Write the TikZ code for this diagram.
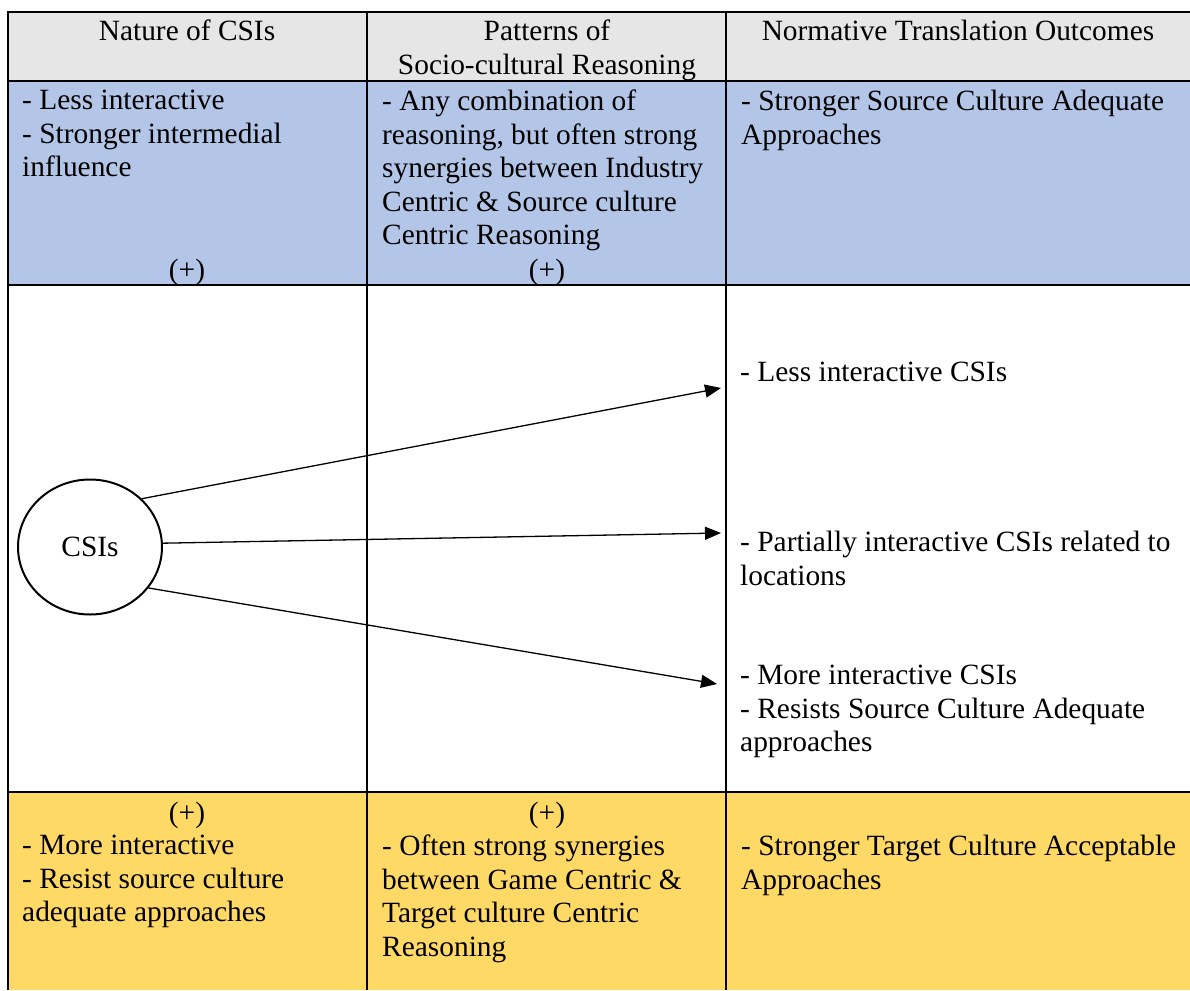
\documentclass[tikz,border=0pt]{standalone}
\usepackage{fontspec}
\setmainfont{Liberation Serif}
\usepackage{xcolor}
\usetikzlibrary{arrows.meta,positioning,shapes.geometric}
\definecolor{headgray}{HTML}{E7E6E6}
\definecolor{rowblue}{HTML}{B4C6E7}
\definecolor{rowyellow}{HTML}{FFD966}

\begin{document}
\begin{tikzpicture}
[x=1pt,y=-1pt,font=\fontsize{29.4}{33.5}\selectfont,
      cell/.style={anchor=north west,align=left,inner sep=0pt},
      head/.style={anchor=north,align=center,inner sep=0pt},
      plus/.style={anchor=base,inner sep=0pt},
      rule/.style={line width=2pt},
      link/.style={-{Triangle[length=16pt,width=13pt]},line width=1.3pt}]
 \useasboundingbox (0,0) rectangle (1190,990);
 % row fills
 \fill[headgray] (8,12) rectangle (1190,81);
 \fill[rowblue] (8,81) rectangle (1190,285);
 \fill[rowyellow] (8,792) rectangle (1190,990);
 % grid
 \draw[rule] (1190,12) -- (8,12) -- (8,990);
 \foreach \y in {81,285,792}
  \draw[rule] (8,\y) -- (1190,\y);
 \foreach \x in {367,726}
  \draw[rule] (\x,12) -- (\x,990);
 % header
 \node[head] (nature) at (187,20) {Nature of CSIs};
 \node[head] (patterns) at (547,20) {Patterns of\\Socio-cultural Reasoning};
 \node[head] (outcomes) at (958,20) {Normative Translation Outcomes};
 % blue row
 \node[cell] (lessint) at (22,90) {- Less interactive\\- Stronger intermedial\\influence};
 \node[plus] (plusa) at (187,279) {(+)};
 \node[cell] (anycomb) at (382,90) {- Any combination of\\reasoning, but often strong\\synergies between Industry\\Centric \& Source culture\\Centric Reasoning};
 \node[plus] (plusb) at (547,279) {(+)};
 \node[cell] (sourceadq) at (741,90) {- Stronger Source Culture Adequate\\Approaches};
 % middle row
 \node[draw,ellipse,line width=2pt,minimum width=144pt,minimum height=135pt,inner sep=0pt] (csi) at (90,547) {CSIs};
 \node[cell] (lesscsi) at (740,362) {- Less interactive CSIs};
 \node[cell] (partcsi) at (740,531) {- Partially interactive CSIs related to\\locations};
 \node[cell] (morecsi) at (740,665) {- More interactive CSIs\\- Resists Source Culture Adequate\\approaches};
 \coordinate (tipa) at (721,388);
 \coordinate (tipb) at (721,533);
 \coordinate (tipc) at (717,684);
 \draw[link] (csi.43) -- (tipa);
 \draw[link] (csi.3) -- (tipb);
 \draw[link] (csi.-35) -- (tipc);
 % yellow row
 \node[plus] (plusc) at (187,822) {(+)};
 \node[cell] (moreint) at (22,835) {- More interactive\\- Resist source culture\\adequate approaches};
 \node[plus] (plusd) at (547,822) {(+)};
 \node[cell] (oftensyn) at (382,835) {- Often strong synergies\\between Game Centric \&\\Target culture Centric\\Reasoning};
 \node[cell] (targetacc) at (741,835) {- Stronger Target Culture Acceptable\\Approaches};
\end{tikzpicture}
\end{document}
